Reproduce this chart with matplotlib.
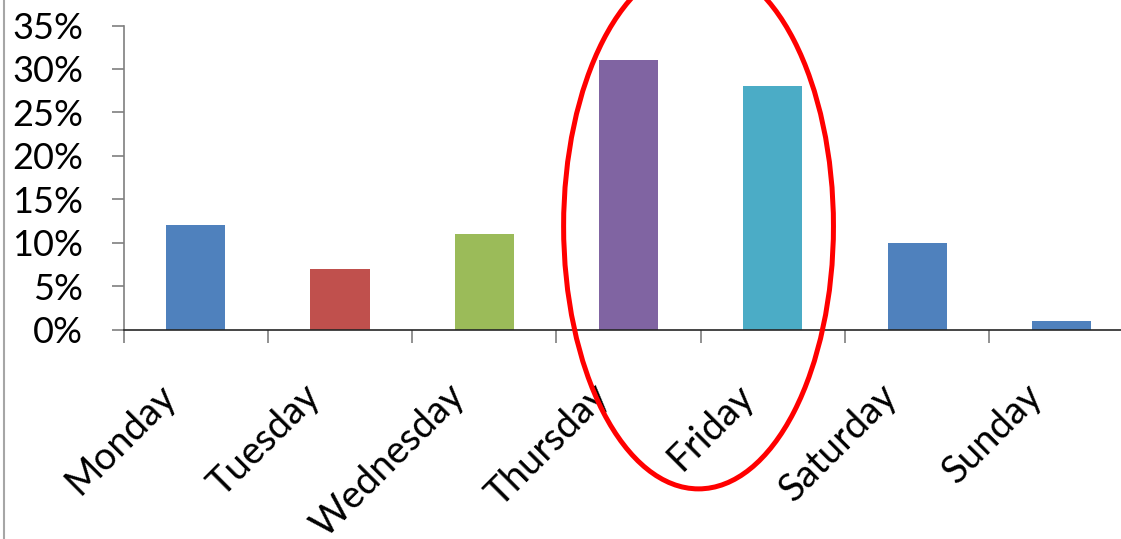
import numpy as np
import matplotlib
matplotlib.use('Agg')
import matplotlib.pyplot as plt
from matplotlib.patches import Ellipse
from matplotlib.lines import Line2D
import matplotlib.transforms as mtransforms

plt.rcParams['font.family'] = ['Lato', 'DejaVu Sans']

days = ['Monday', 'Tuesday', 'Wednesday', 'Thursday', 'Friday', 'Saturday', 'Sunday']
share = [12, 7, 11, 31, 28, 10, 1]
colors = ['#4F81BD', '#C0504D', '#9BBB59', '#8064A2', '#4BACC6', '#4F81BD', '#4F81BD']
yticks = [0, 5, 10, 15, 20, 25, 30, 35]

fig = plt.figure(figsize=(11.21, 5.39), dpi=100)
ax = fig.add_axes([123.5 / 1121, (539 - 329.5) / 539, 7 * 144.3 / 1121, 304 / 539])

x = np.arange(len(days))
ax.bar(x, share, width=0.41, color=colors, zorder=2)

ax.set_xlim(-0.5, len(days) - 0.5)
ax.set_ylim(0, 35)

# y axis
ax.set_yticks(yticks)
ax.set_yticklabels(['%d%%' % v for v in yticks], fontsize=26)
ax.tick_params(axis='y', direction='out', length=9, width=1.2, color='#7f7f7f', pad=20)

# x axis: ticks between categories, labels rotated
ax.set_xticks(np.arange(-0.5, len(days)), minor=False)
ax.set_xticklabels([])
ax.tick_params(axis='x', direction='out', length=9, width=1.2, color='#7f7f7f')

for s in ['top', 'right']:
    ax.spines[s].set_visible(False)
ax.spines['left'].set_color('#7f7f7f')
ax.spines['left'].set_linewidth(1.2)
ax.spines['bottom'].set_color('#262626')
ax.spines['bottom'].set_linewidth(1.2)

trans = mtransforms.blended_transform_factory(ax.transData, ax.transAxes)
for i, d in enumerate(days):
    t = mtransforms.offset_copy(trans, fig=fig, x=-38, y=-48, units='dots')
    ax.text(i, 0, d, transform=t, rotation=45, rotation_mode='anchor',
            ha='right', va='top', fontsize=27.5, color='black')

# highlight Thursday/Friday
ell = Ellipse((3.485, 11.9), width=1.87, height=60.5, fill=False,
              edgecolor='#FF0000', linewidth=3.6, clip_on=False, zorder=5)
ax.add_patch(ell)

# chart-area border on the left
fig.add_artist(Line2D([4 / 1121, 4 / 1121], [0, 1], transform=fig.transFigure,
                      color='#A6A6A6', linewidth=1.5))

fig.savefig('out.png', dpi=100)
